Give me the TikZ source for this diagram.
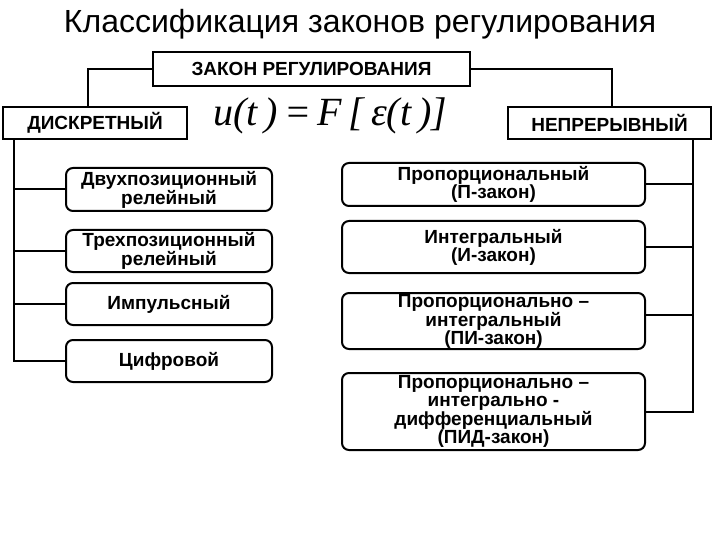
\documentclass[tikz,border=0pt]{standalone}
\usepackage{fontspec}
\setmainfont{Liberation Sans}
\newfontfamily\serifit{Liberation Serif}
\begin{document}
\begin{tikzpicture}[x=1pt,y=-1pt,
  sqbox/.style={draw,line width=2pt,inner sep=0pt,font=\fontsize{19}{18}\selectfont\bfseries},
  rbox/.style={draw,line width=2pt,rounded corners=7pt,inner sep=0pt,align=center,font=\fontsize{19}{18}\selectfont\bfseries},
  ln/.style={line width=2pt}]
\useasboundingbox (0,0) rectangle (720,540);
\node (title) at (360,24) {\fontsize{32}{34}\selectfont Классификация законов регулирования};
\node[sqbox,minimum width=317pt,minimum height=34pt] (top) at (311.5,69) {ЗАКОН РЕГУЛИРОВАНИЯ};
\node[sqbox,minimum width=184pt,minimum height=32pt] (disc) at (95,123) {ДИСКРЕТНЫЙ};
\node[sqbox,minimum width=203pt,minimum height=32pt] (cont) at (609.5,123) {НЕПРЕРЫВНЫЙ};
\node (formula) at (330,116) {\fontsize{40}{42}\selectfont\serifit\itshape u(t\,)\,=\,F\,[\,ε(t\,)]};
\draw[ln] (top.west) -| (disc.north -| 88,0);
\draw[ln] (top.east) -| (cont.north -| 612,0);
% left
\node[rbox,minimum width=206pt,minimum height=43pt] (l1) at (169,189.5) {Двухпозиционный\\релейный};
\node[rbox,minimum width=206pt,minimum height=42pt] (l2) at (169,251) {Трехпозиционный\\релейный};
\node[rbox,minimum width=206pt,minimum height=42pt] (l3) at (169,304) {Импульсный};
\node[rbox,minimum width=206pt,minimum height=42pt] (l4) at (169,361) {Цифровой};
\coordinate (lt) at (14,139);
\coordinate (lb) at (14,361);
\draw[ln] (lt) -- (lb) -- (l4.west);
\draw[ln] (lt |- l1.west) -- (l1.west);
\draw[ln] (lt |- l2.west) -- (l2.west);
\draw[ln] (lt |- l3.west) -- (l3.west);
% right
\node[rbox,minimum width=303pt,minimum height=43pt] (r1) at (493.5,184.5) {Пропорциональный\\(П-закон)};
\node[rbox,minimum width=303pt,minimum height=52pt] (r2) at (493.5,247) {Интегральный\\(И-закон)};
\node[rbox,minimum width=303pt,minimum height=56pt] (r3) at (493.5,321) {Пропорционально –\\интегральный\\(ПИ-закон)};
\node[rbox,minimum width=303pt,minimum height=77pt] (r4) at (493.5,411.5) {Пропорционально –\\интегрально -\\дифференциальный\\(ПИД-закон)};
\coordinate (rt) at (693,139);
\coordinate (rb) at (693,411.5);
\draw[ln] (rt) -- (rb) -- (r4.east);
\draw[ln] (rt |- r1.east) -- (r1.east);
\draw[ln] (rt |- r2.east) -- (r2.east);
\draw[ln] (693,315) -- (r3.east |- 0,315);
\end{tikzpicture}
\end{document}
